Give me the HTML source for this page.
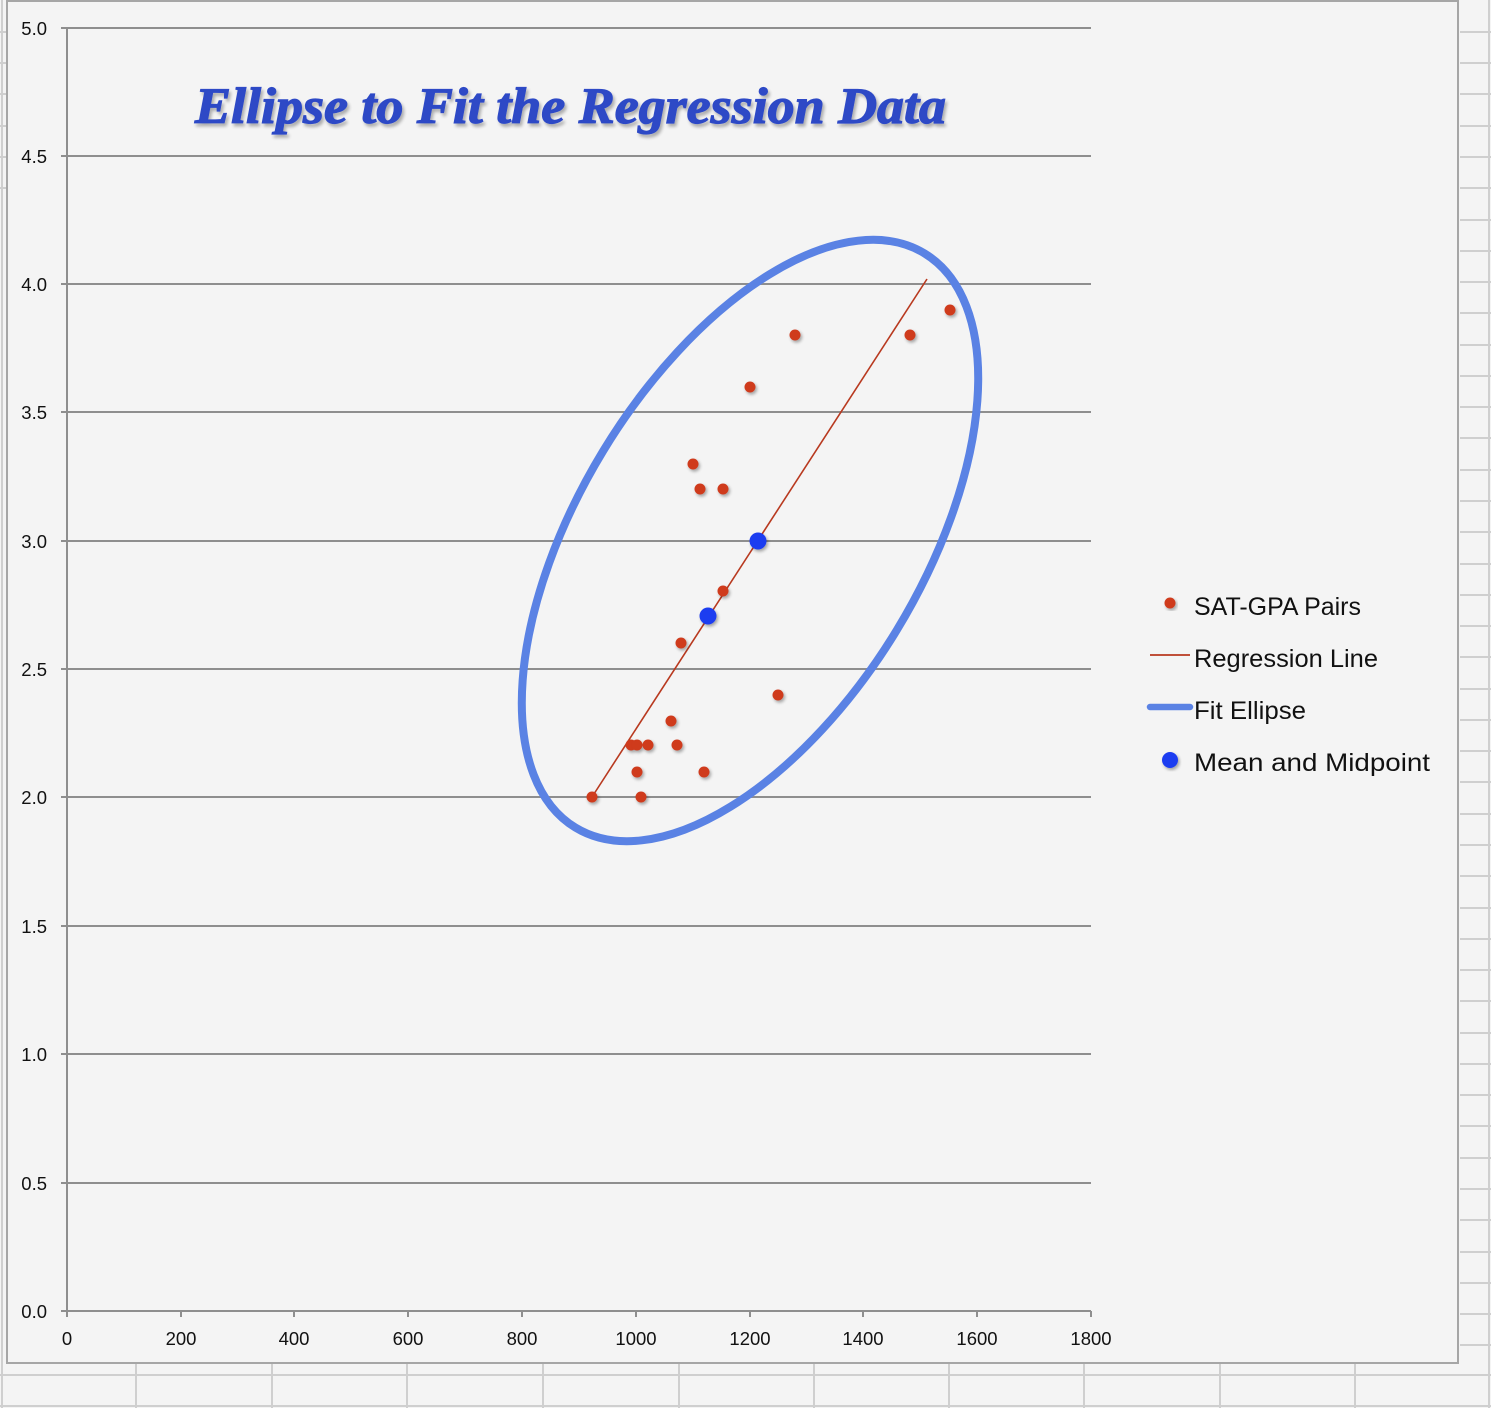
<!DOCTYPE html>
<html><head><meta charset="utf-8"><style>
html,body{margin:0;padding:0;background:#f4f4f4;}
svg{display:block;}
</style></head><body>
<svg width="1491" height="1408" viewBox="0 0 1491 1408" xmlns="http://www.w3.org/2000/svg">
<defs>
<filter id="sh" x="-20%" y="-20%" width="140%" height="140%"><feGaussianBlur in="SourceAlpha" stdDeviation="1.5"/><feOffset dx="1.5" dy="2" result="b"/><feComponentTransfer><feFuncA type="linear" slope="0.35"/></feComponentTransfer><feMerge><feMergeNode/><feMergeNode in="SourceGraphic"/></feMerge></filter>
<filter id="ts" x="-5%" y="-20%" width="110%" height="150%"><feGaussianBlur in="SourceAlpha" stdDeviation="1.5"/><feOffset dx="2" dy="3" result="b"/><feComponentTransfer><feFuncA type="linear" slope="0.3"/></feComponentTransfer><feMerge><feMergeNode/><feMergeNode in="SourceGraphic"/></feMerge></filter>
</defs>
<rect x="0" y="0" width="1491" height="1408" fill="#f4f4f4"/>
<g stroke="#cfcfcf" stroke-width="2">
<line x1="2" y1="0" x2="2" y2="1408"/>
<line x1="1489" y1="0" x2="1489" y2="1408"/>
<line x1="0" y1="1375" x2="1491" y2="1375"/>
<line x1="0" y1="1406" x2="1491" y2="1406"/>
<line x1="136" y1="1364" x2="136" y2="1408"/><line x1="272" y1="1364" x2="272" y2="1408"/><line x1="407" y1="1364" x2="407" y2="1408"/><line x1="543" y1="1364" x2="543" y2="1408"/><line x1="679" y1="1364" x2="679" y2="1408"/><line x1="814" y1="1364" x2="814" y2="1408"/><line x1="949" y1="1364" x2="949" y2="1408"/><line x1="1084" y1="1364" x2="1084" y2="1408"/><line x1="1220" y1="1364" x2="1220" y2="1408"/><line x1="1355" y1="1364" x2="1355" y2="1408"/>
</g>
<g stroke="#cfcfcf" stroke-width="2">
<line x1="1460" y1="32" x2="1491" y2="32"/><line x1="1460" y1="63" x2="1491" y2="63"/><line x1="1460" y1="94" x2="1491" y2="94"/><line x1="1460" y1="126" x2="1491" y2="126"/><line x1="1460" y1="157" x2="1491" y2="157"/><line x1="1460" y1="188" x2="1491" y2="188"/><line x1="1460" y1="220" x2="1491" y2="220"/><line x1="1460" y1="251" x2="1491" y2="251"/><line x1="1460" y1="282" x2="1491" y2="282"/><line x1="1460" y1="313" x2="1491" y2="313"/><line x1="1460" y1="345" x2="1491" y2="345"/><line x1="1460" y1="376" x2="1491" y2="376"/><line x1="1460" y1="407" x2="1491" y2="407"/><line x1="1460" y1="438" x2="1491" y2="438"/><line x1="1460" y1="470" x2="1491" y2="470"/><line x1="1460" y1="501" x2="1491" y2="501"/><line x1="1460" y1="532" x2="1491" y2="532"/><line x1="1460" y1="564" x2="1491" y2="564"/><line x1="1460" y1="595" x2="1491" y2="595"/><line x1="1460" y1="626" x2="1491" y2="626"/><line x1="1460" y1="657" x2="1491" y2="657"/><line x1="1460" y1="689" x2="1491" y2="689"/><line x1="1460" y1="720" x2="1491" y2="720"/><line x1="1460" y1="751" x2="1491" y2="751"/><line x1="1460" y1="782" x2="1491" y2="782"/><line x1="1460" y1="814" x2="1491" y2="814"/><line x1="1460" y1="845" x2="1491" y2="845"/><line x1="1460" y1="876" x2="1491" y2="876"/><line x1="1460" y1="908" x2="1491" y2="908"/><line x1="1460" y1="939" x2="1491" y2="939"/><line x1="1460" y1="970" x2="1491" y2="970"/><line x1="1460" y1="1001" x2="1491" y2="1001"/><line x1="1460" y1="1033" x2="1491" y2="1033"/><line x1="1460" y1="1064" x2="1491" y2="1064"/><line x1="1460" y1="1095" x2="1491" y2="1095"/><line x1="1460" y1="1126" x2="1491" y2="1126"/><line x1="1460" y1="1158" x2="1491" y2="1158"/><line x1="1460" y1="1189" x2="1491" y2="1189"/><line x1="1460" y1="1220" x2="1491" y2="1220"/><line x1="1460" y1="1252" x2="1491" y2="1252"/><line x1="1460" y1="1283" x2="1491" y2="1283"/><line x1="1460" y1="1314" x2="1491" y2="1314"/><line x1="1460" y1="1345" x2="1491" y2="1345"/>
</g>
<g stroke="#cfcfcf" stroke-width="2">
<line x1="0" y1="32" x2="6" y2="32"/><line x1="0" y1="63" x2="6" y2="63"/><line x1="0" y1="94" x2="6" y2="94"/><line x1="0" y1="126" x2="6" y2="126"/><line x1="0" y1="157" x2="6" y2="157"/><line x1="0" y1="188" x2="6" y2="188"/>
</g>
<rect x="7" y="1" width="1451" height="1362" fill="#f4f4f4" stroke="#a6a6a6" stroke-width="2"/>

<g stroke="#8e8e8e" stroke-width="2">
<line x1="61" y1="28" x2="1091" y2="28"/>
<line x1="61" y1="156" x2="1091" y2="156"/>
<line x1="61" y1="284" x2="1091" y2="284"/>
<line x1="61" y1="412" x2="1091" y2="412"/>
<line x1="61" y1="541" x2="1091" y2="541"/>
<line x1="61" y1="669" x2="1091" y2="669"/>
<line x1="61" y1="797" x2="1091" y2="797"/>
<line x1="61" y1="926" x2="1091" y2="926"/>
<line x1="61" y1="1054" x2="1091" y2="1054"/>
<line x1="61" y1="1183" x2="1091" y2="1183"/>
<line x1="61" y1="1311" x2="1091" y2="1311"/>
<line x1="67" y1="28" x2="67" y2="1317"/>
<line x1="181" y1="1311" x2="181" y2="1317"/>
<line x1="294" y1="1311" x2="294" y2="1317"/>
<line x1="408" y1="1311" x2="408" y2="1317"/>
<line x1="522" y1="1311" x2="522" y2="1317"/>
<line x1="636" y1="1311" x2="636" y2="1317"/>
<line x1="750" y1="1311" x2="750" y2="1317"/>
<line x1="863" y1="1311" x2="863" y2="1317"/>
<line x1="977" y1="1311" x2="977" y2="1317"/>
<line x1="1091" y1="1311" x2="1091" y2="1317"/>
</g>

<g font-family="Liberation Sans, sans-serif" font-size="18.5" fill="#111" text-anchor="end">
<text x="47" y="35">5.0</text>
<text x="47" y="163">4.5</text>
<text x="47" y="291">4.0</text>
<text x="47" y="419">3.5</text>
<text x="47" y="548">3.0</text>
<text x="47" y="676">2.5</text>
<text x="47" y="804">2.0</text>
<text x="47" y="933">1.5</text>
<text x="47" y="1061">1.0</text>
<text x="47" y="1190">0.5</text>
<text x="47" y="1318">0.0</text>
</g>
<g font-family="Liberation Sans, sans-serif" font-size="18.5" fill="#111" text-anchor="middle">
<text x="67" y="1345">0</text>
<text x="181" y="1345">200</text>
<text x="294" y="1345">400</text>
<text x="408" y="1345">600</text>
<text x="522" y="1345">800</text>
<text x="636" y="1345">1000</text>
<text x="750" y="1345">1200</text>
<text x="863" y="1345">1400</text>
<text x="977" y="1345">1600</text>
<text x="1091" y="1345">1800</text>
</g>

<text x="195" y="123" font-family="Liberation Serif, serif" font-weight="bold" font-style="italic" font-size="51" fill="#2d49c6" stroke="#2d49c6" stroke-width="1.2" textLength="751" lengthAdjust="spacingAndGlyphs" filter="url(#ts)">Ellipse to Fit the Regression Data</text>

<ellipse cx="750" cy="540.5" rx="336" ry="172" transform="rotate(-58.7 750 540.5)" fill="none" stroke="#5a82e4" stroke-width="8"/>

<line x1="592" y1="797" x2="927" y2="279" stroke="#b8391f" stroke-width="1.6"/>

<g fill="#cf3a1e" filter="url(#sh)">
<circle cx="693" cy="464" r="5.5"/>
<circle cx="700" cy="489" r="5.5"/>
<circle cx="723" cy="489" r="5.5"/>
<circle cx="750" cy="387" r="5.5"/>
<circle cx="795" cy="335" r="5.5"/>
<circle cx="910" cy="335" r="5.5"/>
<circle cx="950" cy="310" r="5.5"/>
<circle cx="723" cy="591" r="5.5"/>
<circle cx="681" cy="643" r="5.5"/>
<circle cx="778" cy="695" r="5.5"/>
<circle cx="671" cy="721" r="5.5"/>
<circle cx="631" cy="745" r="5.5"/>
<circle cx="637" cy="745" r="5.5"/>
<circle cx="648" cy="745" r="5.5"/>
<circle cx="677" cy="745" r="5.5"/>
<circle cx="637" cy="772" r="5.5"/>
<circle cx="704" cy="772" r="5.5"/>
<circle cx="592" cy="797" r="5.5"/>
<circle cx="641" cy="797" r="5.5"/>
</g>
<g fill="#1f3df0" filter="url(#sh)">
<circle cx="758" cy="541" r="8.5"/>
<circle cx="708" cy="616" r="8.5"/>
</g>

<circle cx="1170" cy="603" r="5.5" fill="#cf3a1e" filter="url(#sh)"/>
<line x1="1150" y1="655" x2="1190" y2="655" stroke="#b8391f" stroke-width="1.8"/>
<line x1="1150" y1="707" x2="1190" y2="707" stroke="#5a82e4" stroke-width="6.5" stroke-linecap="round"/>
<circle cx="1170" cy="760" r="8" fill="#1f3df0" filter="url(#sh)"/>
<g font-family="Liberation Sans, sans-serif" font-size="25" fill="#111">
<text x="1194" y="615" textLength="167" lengthAdjust="spacingAndGlyphs">SAT-GPA Pairs</text>
<text x="1194" y="667" textLength="184" lengthAdjust="spacingAndGlyphs">Regression Line</text>
<text x="1194" y="719" textLength="112" lengthAdjust="spacingAndGlyphs">Fit Ellipse</text>
<text x="1194" y="771" textLength="236" lengthAdjust="spacingAndGlyphs">Mean and Midpoint</text>
</g>
</svg>
</body></html>
